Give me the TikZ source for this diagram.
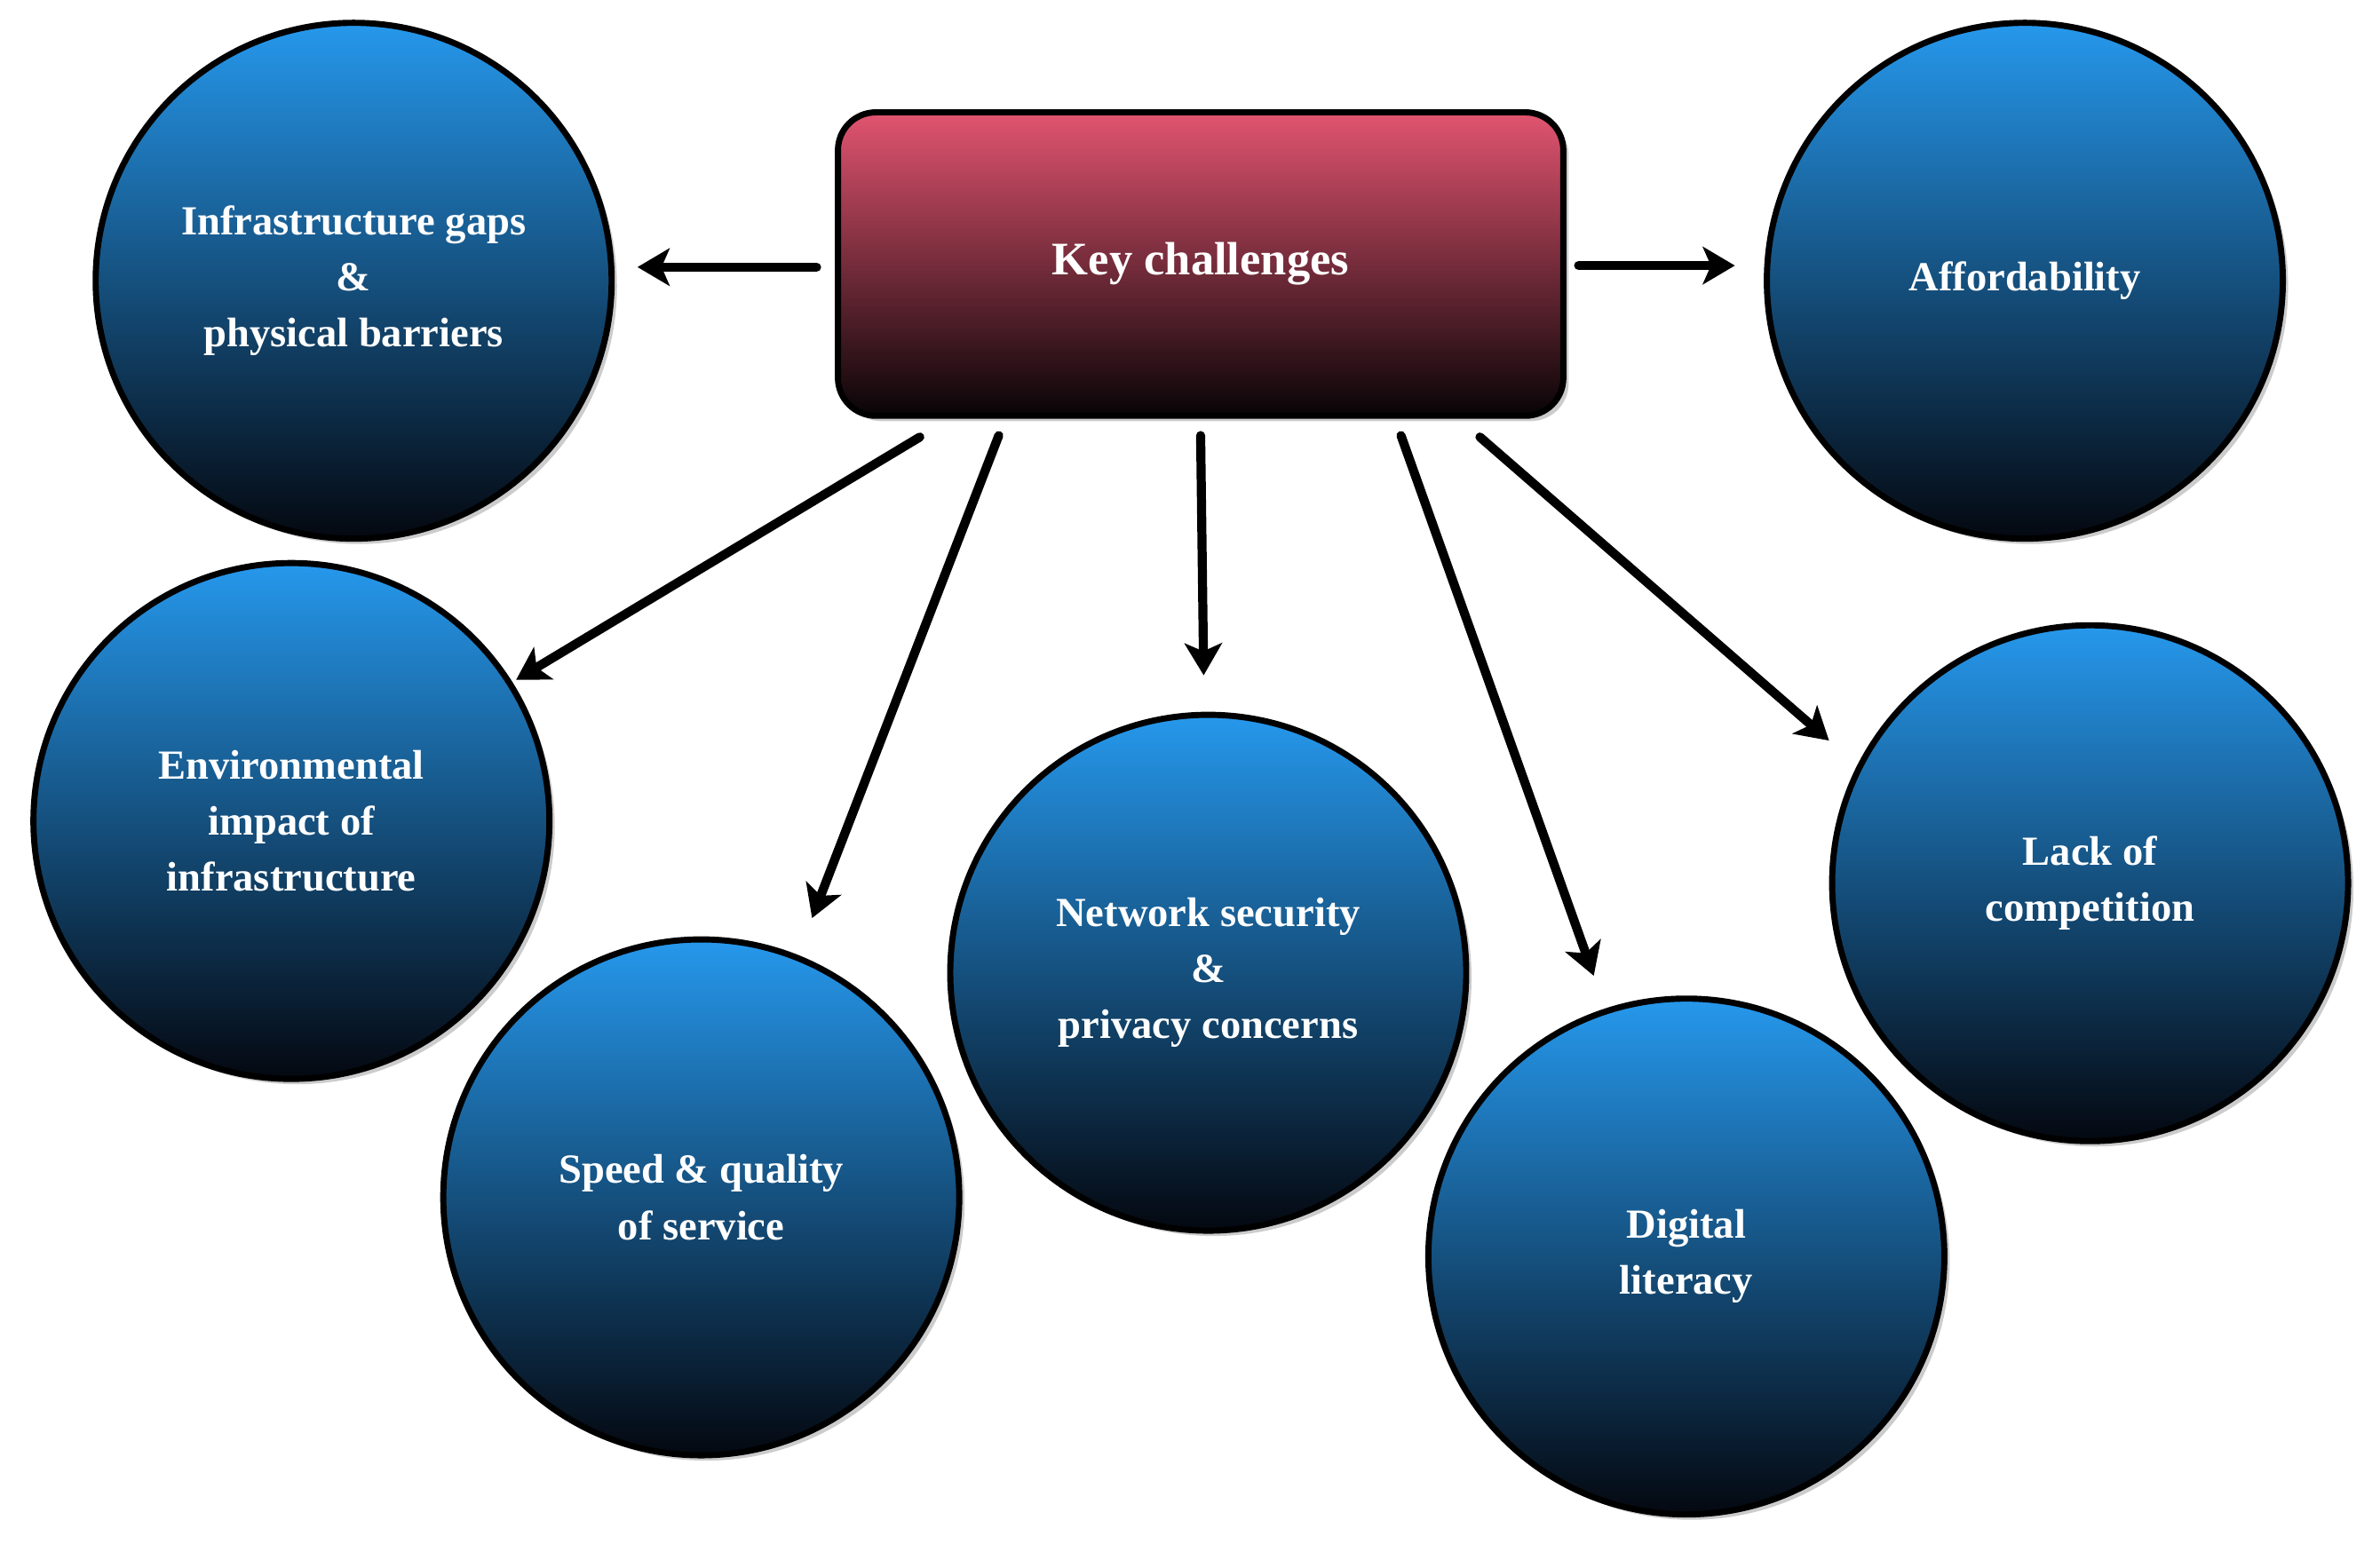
\documentclass[tikz,border=0pt]{standalone}
\usepackage{fontspec}
\setmainfont{Liberation Serif}
\usetikzlibrary{shadows,arrows.meta}
\definecolor{ctop}{RGB}{38,152,236}
\definecolor{cbot}{RGB}{4,8,16}
\definecolor{btop}{RGB}{226,84,112}
\definecolor{bbot}{RGB}{8,4,6}
\begin{document}
\begin{tikzpicture}[x=0.02cm,y=-0.02cm,
  circ/.style={circle,minimum size=6.8cm,draw=black,line width=2.3pt,top color=ctop,bottom color=cbot,
    drop shadow={shadow xshift=2pt,shadow yshift=-2pt,opacity=0.4},text=white,font=\bfseries\fontsize{15.5}{21}\selectfont,align=center,inner sep=0pt},
  box/.style={rounded corners=0.5cm,minimum width=9.56cm,minimum height=4cm,draw=black,line width=2.3pt,top color=btop,bottom color=bbot,
    drop shadow={shadow xshift=2pt,shadow yshift=-2pt,opacity=0.4},text=white,font=\bfseries\fontsize{17.5}{21}\selectfont},
  arr/.style={-{Stealth[length=12pt,width=14pt,inset=3pt]},line width=3.4pt,line cap=round}]
\useasboundingbox (0,0) rectangle (1568,1017);
\node[box] (k) at (791,174) {Key challenges};
\node[circ] (c1) at (233,185) {Infrastructure gaps\\\&\\physical barriers};
\node[circ] (c2) at (1334,185) {Affordability};
\node[circ] (c3) at (192,541) {Environmental\\impact of\\infrastructure};
\node[circ] (c4) at (462,789) {Speed \& quality\\of service};
\node[circ] (c5) at (796,641) {Network security\\\&\\privacy concerns};
\node[circ] (c6) at (1111,828) {Digital\\literacy};
\node[circ] (c7) at (1377,582) {Lack of\\competition};
\coordinate (s1) at (538,176); \coordinate (e1) at (420,176);
\coordinate (s2) at (1040,175); \coordinate (e2) at (1143,175);
\coordinate (s3) at (606,288); \coordinate (e3) at (340,448);
\coordinate (s4) at (658,287); \coordinate (e4) at (535,605);
\coordinate (s5) at (791,287); \coordinate (e5) at (793,445);
\coordinate (s6) at (923,287); \coordinate (e6) at (1050,643);
\coordinate (s7) at (975,288); \coordinate (e7) at (1205,488);
\foreach \i in {1,...,7} \draw[arr] (s\i) -- (e\i);
\end{tikzpicture}
\end{document}
